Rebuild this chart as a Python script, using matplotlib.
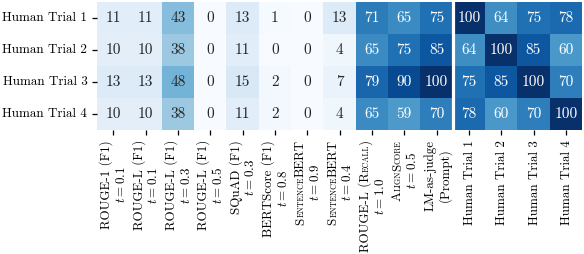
import numpy as np
import matplotlib
matplotlib.use("Agg")
import matplotlib.pyplot as plt
import matplotlib.transforms as mtransforms
import seaborn as sns

plt.rcParams['font.family'] = 'cmr10'
plt.rcParams['mathtext.fontset'] = 'cm'
plt.rcParams['axes.formatter.use_mathtext'] = True

row_labels = ["Human Trial 1", "Human Trial 2", "Human Trial 3", "Human Trial 4"]

# {...} marks small caps
metric_names = ["ROUGE-1 (F1)", "ROUGE-L (F1)", "ROUGE-L (F1)", "ROUGE-L (F1)",
                "SQuAD (F1)", "BERTScore (F1)", "{SentenceBERT}", "{SentenceBERT}",
                "ROUGE-L ({Recall})", "{AlignScore}", "LM-as-judge",
                "Human Trial 1", "Human Trial 2", "Human Trial 3", "Human Trial 4"]
second_lines = ["$t = 0.1$", "$t = 0.1$", "$t = 0.3$", "$t = 0.5$", "$t = 0.3$",
                "$t = 0.8$", "$t = 0.9$", "$t = 0.4$", "$t = 1.0$", "$t = 0.5$",
                "(Prompt)", None, None, None, None]

trial1 = [11, 11, 43, 0, 13, 1, 0, 13, 71, 65, 75, 100, 64, 75, 78]
trial2 = [10, 10, 38, 0, 11, 0, 0, 4, 65, 75, 85, 64, 100, 85, 60]
trial3 = [13, 13, 48, 0, 15, 2, 0, 7, 79, 90, 100, 75, 85, 100, 70]
trial4 = [10, 10, 38, 0, 11, 2, 0, 4, 65, 59, 70, 78, 60, 70, 100]

values = np.array([trial1, trial2, trial3, trial4])

TICK_FS = 9.4
SC_RATIO = 0.62
DPI = 100

fig = plt.figure(figsize=(5.84, 2.54), dpi=DPI)
ax = fig.add_axes([97 / 584, 1 - 130 / 254, 485 / 584, 128 / 254])
sns.heatmap(values, ax=ax, cmap="Blues", vmin=0, vmax=100, annot=True, fmt="d",
            cbar=False, annot_kws={"fontsize": 11}, square=False)
ax.axvline(11, color="white", lw=2.3)
ax.set_yticklabels(row_labels, rotation=0, fontsize=TICK_FS)
ax.set_xticklabels([""] * len(metric_names))
ax.tick_params(length=3.5, width=0.9)


def smallcaps_parts(s):
    parts = []
    small = False
    for ch in s:
        if ch == "{":
            small = True
            continue
        if ch == "}":
            small = False
            continue
        flag = small and ch.islower()
        c = ch.upper() if flag else ch
        if parts and parts[-1][1] == flag:
            parts[-1][0] += c
        else:
            parts.append([c, flag])
    return parts


fig.canvas.draw()
renderer = fig.canvas.get_renderer()
ident = mtransforms.IdentityTransform()
em = TICK_FS * DPI / 72
spacing = 15.0
top = 254 - 140

for i, name in enumerate(metric_names):
    lines = [smallcaps_parts(name)]
    if second_lines[i] is not None:
        lines.append([[second_lines[i], False]])
    xc = ax.transData.transform((i + 0.5, 0))[0]
    drawn = []
    for parts in lines:
        texts = []
        for s, small in parts:
            t = fig.text(0, 0, s, fontsize=TICK_FS * (SC_RATIO if small else 1.0),
                         rotation=90, rotation_mode="anchor", ha="left",
                         va="baseline", transform=ident)
            texts.append(t)
        lens = [t.get_window_extent(renderer).height for t in texts]
        drawn.append((texts, lens))
    maxlen = max(sum(l) for _, l in drawn)
    yc = top - maxlen / 2
    n = len(drawn)
    for k, (texts, lens) in enumerate(drawn):
        dx = (k - (n - 1) / 2) * spacing
        xb = xc + dx + 0.33 * em
        y = yc - sum(lens) / 2
        for t, l in zip(texts, lens):
            t.set_position((xb, y))
            y += l

fig.savefig("out.png", dpi=DPI)
